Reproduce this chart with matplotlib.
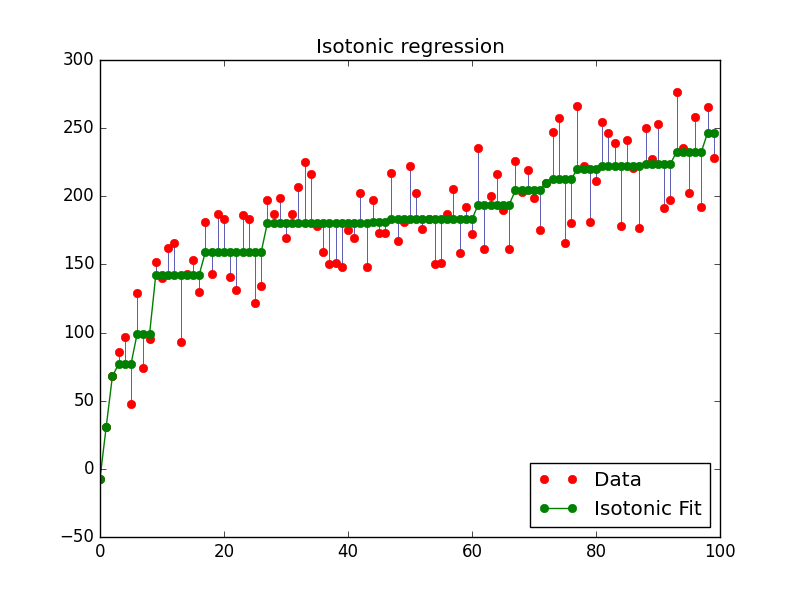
import numpy as np
import matplotlib
matplotlib.use('Agg')
import matplotlib.pyplot as plt
from matplotlib.collections import LineCollection

plt.style.use('classic')

x = np.arange(100)
y = [-7, 31, 68, 86, 97, 48, 129, 74, 95, 152,
     140, 162, 166, 93, 143, 153, 130, 181, 143, 187,
     183, 141, 131, 186, 183, 122, 134, 197, 187, 199,
     169, 187, 207, 225, 216, 178, 159, 150, 151, 148,
     175, 169, 202, 148, 197, 173, 173, 217, 167, 181,
     222, 202, 176, 183, 150, 151, 187, 205, 158, 192,
     172, 235, 161, 200, 216, 190, 161, 226, 203, 219,
     199, 175, 210, 247, 257, 166, 180, 266, 222, 181,
     211, 254, 246, 239, 178, 241, 221, 177, 250, 227,
     253, 191, 197, 276, 235, 202, 258, 192, 265, 228]

# isotonic fit, block levels and block lengths
fit_levels = [-7, 31, 68, 77, 99.3, 142.4, 159.1, 180.4, 181, 183.1,
              193.8, 204.4, 210, 212.5, 220, 222.3, 223.6, 232.6, 246.5]
fit_counts = [1, 1, 1, 3, 3, 8, 10, 17, 3, 14,
              6, 5, 1, 4, 4, 7, 5, 5, 2]
y_fit = np.repeat(fit_levels, fit_counts)

fig = plt.figure(figsize=(8, 5.97), dpi=100)

segments = [[[i, y[i]], [i, y_fit[i]]] for i in range(len(x))]
lc = LineCollection(segments, zorder=0, colors='#1a1a99', linewidths=0.5)
plt.gca().add_collection(lc)

h1, = plt.plot(x, y, 'r.', markersize=12)
h2, = plt.plot(x, y_fit, 'g.-', markersize=12)
plt.legend([h1, h2], ['Data', 'Isotonic Fit'], loc='lower right')
plt.title('Isotonic regression')
plt.xlim(0, 100)
plt.ylim(-50, 300)

plt.savefig('out.png', dpi=100)
